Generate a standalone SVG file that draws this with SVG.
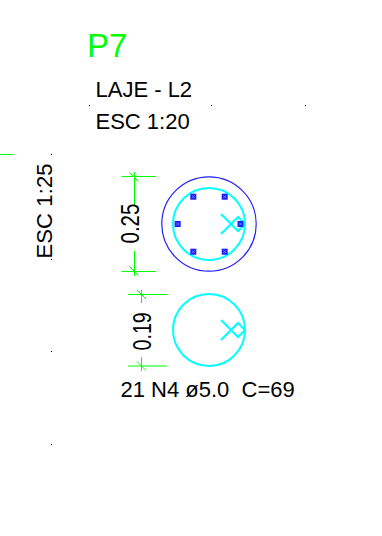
<svg xmlns="http://www.w3.org/2000/svg" width="382" height="536" viewBox="0 0 382 536">
<style>
text{font-family:"Liberation Sans",Arial,sans-serif;fill:#000;white-space:pre}
.t{font-size:22px}
.n{font-size:20.500px}
.dim{stroke:#00ff00;stroke-width:1;fill:none}
.cy{stroke:#00ffff;stroke-width:2;fill:none}
.bl{stroke:#2020ff;stroke-width:1.2;fill:none}
.bar{fill:#1a1aff;stroke:none}
.barx{stroke:#8f9cff;stroke-width:.7;fill:none}
.dot{fill:#000}
</style>
<defs>
<g id="bar"><rect class="bar" x="-3" y="-3" width="6" height="6"/><path class="barx" d="M-1.5-1.5L1.500 1.500M1.500-1.500L-1.500 1.500"/></g>
</defs>
<rect width="382" height="536" fill="#fff"/>
<g id="marks">
<rect class="dot" x="89" y="105" width="1" height="1"/>
<rect class="dot" x="51" y="154" width="1" height="1"/>
<rect class="dot" x="190" y="95" width="1" height="1"/>
<rect class="dot" x="211" y="105" width="1" height="1"/>
<rect class="dot" x="305" y="105" width="1" height="1"/>
<rect class="dot" x="51" y="259" width="1" height="1"/>
<rect class="dot" x="51" y="351" width="1" height="1"/>
<rect class="dot" x="51" y="444" width="1" height="1"/>
<path class="dim" d="M0 154.500H13"/>
</g>
<g id="title">
<text x="87" y="57" font-size="33" style="fill:#00ff00">P7</text>
<text class="t" x="95.500" y="97">LAJE - L2</text>
<text class="t" x="95.500" y="129">ESC 1:20</text>
<text class="t" transform="translate(51.500 258.500) rotate(-90)" textLength="95">ESC 1:25</text>
</g>
<g id="section-top">
<circle class="bl" cx="209" cy="224" r="47.2"/>
<circle class="cy" cx="209" cy="224" r="36"/>
<path class="cy" d="M221 214L238 231L245 224L238 217L221 234"/>
<use href="#bar" x="193.300" y="196.700"/>
<use href="#bar" x="224.700" y="196.700"/>
<use href="#bar" x="177.700" y="224"/>
<use href="#bar" x="240.500" y="224"/>
<use href="#bar" x="193.300" y="251.700"/>
<use href="#bar" x="224.700" y="251.700"/>
</g>
<g id="section-bottom">
<circle class="cy" cx="209" cy="330" r="36"/>
<path class="cy" d="M221 320L238 337L245 330L238 323L221 340"/>
</g>
<g id="connectors">
<path class="dim" d="M121.500 176.500H156M134.500 172V205M129.500 172.500L138.500 181.500"/>
<path class="dim" d="M121.500 271.500H156M134.500 251V276M129.500 266.500L138.500 275.500"/>
<path class="dim" d="M128 294.500H167.500M141.500 290V303M137 290L146 299"/>
<path class="dim" d="M128 366H167.500M141.500 357V371M137 361.500L146 370.500"/>
</g>
<g id="labels">
<text class="n" transform="translate(139.300 243.500) rotate(-90) scale(1 1.28)">0.25</text>
<text class="n" transform="translate(150.700 350.500) rotate(-90) scale(.96 1.25)">0.19</text>
<text class="t" x="120.500" y="397">21 N4 ø5.0  C=69</text>
</g>
</svg>
